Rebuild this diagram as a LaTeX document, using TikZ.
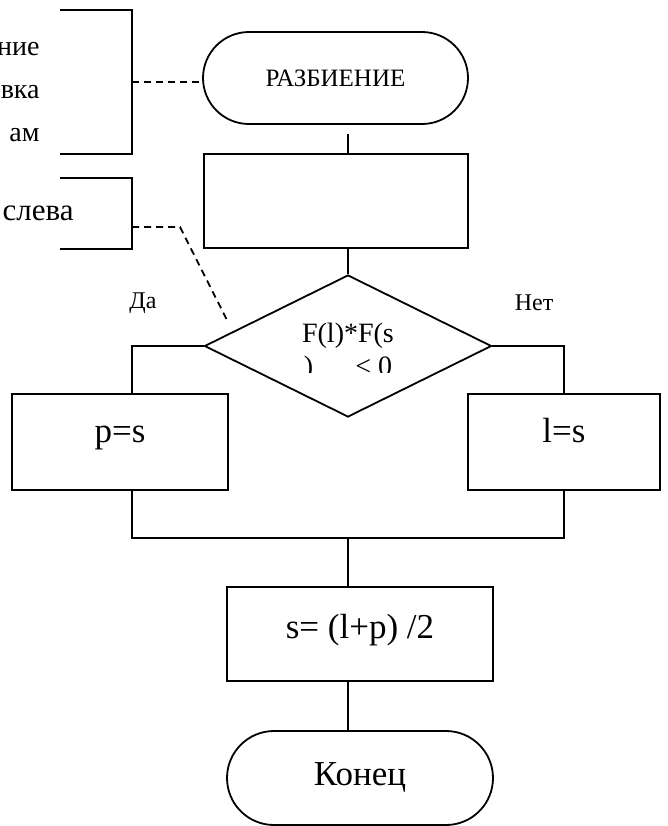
\documentclass[tikz,border=0pt]{standalone}
\usepackage{fontspec}
\setmainfont{Liberation Serif}
\usetikzlibrary{positioning,shapes.geometric,shapes.misc}
\tikzset{
  termbox/.style={
    rounded rectangle, draw, line width=0.9pt,
    minimum width=#1, minimum height=46pt,
    inner sep=0pt
  },
  termbox/.default=132.5pt,
  procbox/.style={
    rectangle, draw, line width=0.9pt,
    minimum width=#1, minimum height=47pt,
    font=\fontsize{17.5}{20}\selectfont, inner sep=0pt,
    text height=0.7em, text depth=0.25em
  },
  procbox/.default=132pt,
  testbox/.style={
    diamond, draw, line width=0.9pt,
    minimum width=143.5pt, minimum height=71pt, inner sep=0pt
  },
  flowline/.style={line width=0.9pt},
  noteline/.style={line width=0.9pt, dash pattern=on 3.5pt off 2.5pt},
  bracketline/.style={line width=0.9pt},
  branchlabel/.style={font=\fontsize{12}{14}\selectfont},
  notetext/.style={align=right, anchor=east, inner sep=0pt}
}

\begin{document}
\begin{tikzpicture}[x=0.5pt,y=-0.5pt]
\clip (0,0) rectangle (668,826);

% Flow column
\node[termbox, font=\fontsize{12.5}{15}\selectfont] (start) at (335.5,78) {РАЗБИЕНИЕ};
\node[procbox] (split) at (336,201) {};
\node[testbox] (test) at (348,346) {};
\begin{scope}
  \clip (296,318) rectangle (400,372);
  \node[font=\fontsize{14}{16.5}\selectfont, align=center, inner sep=0pt]
    (testtext) at (348,352) {F(l)*F(s\\)\quad\ \ < 0};
\end{scope}

% Branches
\node[branchlabel] (yes) at (143,303) {Да};
\node[branchlabel] (no) at (534,303) {Нет};
\node[procbox=108pt, minimum height=48pt, text depth=0.25em+4.5pt] (pset) at (120,442) {p=s};
\node[procbox=96pt, minimum height=48pt, text depth=0.25em+4.5pt] (lset) at (564,442) {l=s};
\node[procbox=133pt] (mid) at (360,634) {s= (l+p) /2};
\node[termbox=133pt, minimum height=47pt, font=\fontsize{17.5}{20}\selectfont,
  text height=0.7em, text depth=0.25em-4pt] (stop) at (360,778) {Конец};

\coordinate (ljoin) at (132,538);
\coordinate (rjoin) at (564,538);

% Connectors
\draw[flowline, shorten <=4.5pt] (start.south -| test.north) -- (split.north -| test.north);
\draw[flowline] (split.south -| test.north) -- (test.north);
\draw[flowline] (test.west) -| (pset.north -| ljoin);
\draw[flowline] (test.east) -| (lset.north);
\draw[flowline] (pset.south -| ljoin) -- (ljoin) -- (rjoin) -- (lset.south);
\draw[flowline] (test.north |- ljoin) -- (mid.north -| test.north);
\draw[flowline] (mid.south -| test.north) -- (stop.north -| test.north);

% Comments
\node[notetext, font=\fontsize{14}{21.5}\selectfont] (note1) at (40,92) {ние\\вка\\ам};
\node[notetext, font=\fontsize{15.5}{18}\selectfont] (note2) at (74,213) {слева};
\coordinate (turn) at (180,227);
\coordinate (tip) at (228,322);
\draw[bracketline] (60,10) -- (132,10) -- (132,154) -- (60,154);
\draw[bracketline] (60,178) -- (132,178) -- (132,249) -- (60,249);
\draw[noteline] (132,82) -- (start.west |- 0,82);
\draw[noteline] (132,227) -- (turn) -- (tip);

\end{tikzpicture}
\end{document}
